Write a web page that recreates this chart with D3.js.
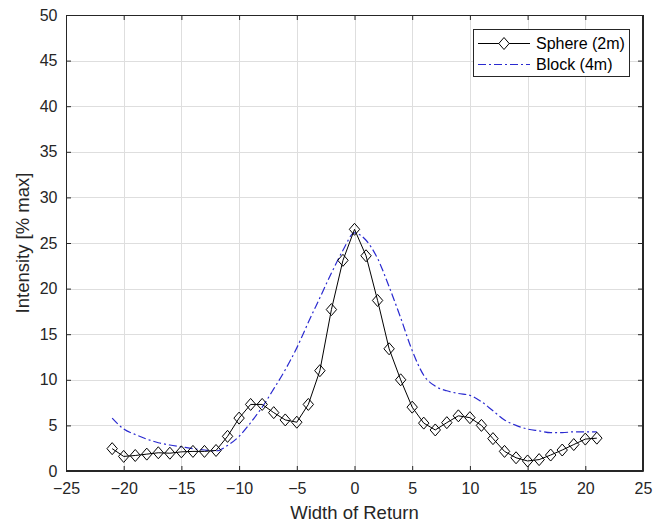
<!DOCTYPE html>
<html>
<head>
<meta charset="utf-8">
<script src="https://cdn.jsdelivr.net/npm/d3@7"></script>
<style>
  html, body { margin: 0; padding: 0; background: #fff; }
  svg text { font-family: "Liberation Sans", Arial, Helvetica, sans-serif; }
</style>
</head>
<body>
<svg id="chart" width="657" height="527"></svg>
<script>
// Return profile along the width axis
const widths = d3.range(-21, 22);
const sphere = [2.45, 1.6, 1.7, 1.85, 2.0, 1.95, 2.1, 2.15, 2.15, 2.25, 3.8, 5.8, 7.3, 7.3, 6.4,
  5.6, 5.35, 7.3, 11.0, 17.7, 23.1, 26.5, 23.6, 18.7, 13.4, 10.0, 7.0, 5.25, 4.5, 5.3, 6.05,
  5.85, 5.0, 3.55, 2.15, 1.45, 1.1, 1.25, 1.75, 2.3, 2.9, 3.5, 3.6];
const block = [5.8, 4.6, 4.0, 3.5, 3.1, 2.85, 2.65, 2.45, 2.3, 2.2, 2.8, 3.8, 5.3, 7.0, 9.0,
  11.1, 13.5, 16.3, 19.0, 21.7, 24.2, 26.1, 25.3, 23.3, 20.2, 16.8, 13.2, 10.5, 9.3, 8.8, 8.5,
  8.3, 7.6, 6.6, 5.6, 5.0, 4.6, 4.4, 4.2, 4.2, 4.3, 4.3, 4.3];
const xTicks = [-25, -20, -15, -10, -5, 0, 5, 10, 15, 20, 25];
const yTicks = [0, 5, 10, 15, 20, 25, 30, 35, 40, 45, 50];
const seriesNames = ["Sphere (2m)", "Block (4m)"];

const svg = d3.select("#chart");
const pLeft = 66, pRight = 643, pTop = 15, pBottom = 471;
const axisColor = "#262626";
const blue = "#2a2ad0";

const x = d3.scaleLinear().domain([-25, 25]).range([pLeft, pRight]);
const y = d3.scaleLinear().domain([0, 50]).range([pBottom, pTop]);

// grid
const grid = svg.append("g").attr("stroke", "#dedede").attr("stroke-width", 1);
grid.selectAll(".gx").data(xTicks.slice(1, -1)).join("line")
  .attr("x1", d => Math.round(x(d)) + 0.5).attr("x2", d => Math.round(x(d)) + 0.5)
  .attr("y1", pTop).attr("y2", pBottom);
grid.selectAll(".gy").data(yTicks.slice(1, -1)).join("line")
  .attr("y1", d => Math.round(y(d)) + 0.5).attr("y2", d => Math.round(y(d)) + 0.5)
  .attr("x1", pLeft).attr("x2", pRight);

// axes
const gx = svg.append("g").attr("transform", `translate(0,${pBottom})`)
  .call(d3.axisBottom(x).tickValues(xTicks).tickSize(-5).tickPadding(12).tickSizeOuter(0));
const gxTop = svg.append("g").attr("transform", `translate(0,${pTop})`)
  .call(d3.axisTop(x).tickValues(xTicks).tickSize(-5).tickFormat("").tickSizeOuter(0));
const gy = svg.append("g").attr("transform", `translate(${pLeft},0)`)
  .call(d3.axisLeft(y).tickValues(yTicks).tickSize(-5).tickPadding(8.5).tickSizeOuter(0));
const gyRight = svg.append("g").attr("transform", `translate(${pRight},0)`)
  .call(d3.axisRight(y).tickValues(yTicks).tickSize(-5).tickFormat("").tickSizeOuter(0));

[gx, gxTop, gy, gyRight].forEach(g => {
  g.selectAll("path").attr("stroke", axisColor).attr("stroke-width", 1);
  g.selectAll("line").attr("stroke", axisColor);
  g.selectAll("text").attr("fill", axisColor).style("font-size", "16px");
});

// axis titles
svg.append("text").attr("x", (pLeft + pRight) / 2).attr("y", 519)
  .attr("text-anchor", "middle").attr("fill", axisColor).style("font-size", "18.5px")
  .text("Width of Return");
svg.append("text").attr("transform", `translate(29,${(pTop + pBottom) / 2}) rotate(-90)`)
  .attr("text-anchor", "middle").attr("fill", axisColor).style("font-size", "18.5px")
  .text("Intensity [% max]");

// series
const plot = svg.append("g");
const smooth = d3.line().x(d => x(d[0])).y(d => y(d[1])).curve(d3.curveMonotoneX);
const straight = d3.line().x(d => x(d[0])).y(d => y(d[1]));

plot.append("path").datum(widths.map((w, i) => [w, block[i]]))
  .attr("d", smooth).attr("fill", "none").attr("stroke", blue).attr("stroke-width", 1.2)
  .attr("stroke-dasharray", "8,3,2,3");

plot.append("path").datum(widths.map((w, i) => [w, sphere[i]]))
  .attr("d", straight).attr("fill", "none").attr("stroke", "#000").attr("stroke-width", 1);

const diamond = (rx, ry) => `M0,${-ry}L${rx},0L0,${ry}L${-rx},0Z`;
plot.selectAll(".m").data(widths.map((w, i) => [w, sphere[i]])).join("path")
  .attr("transform", d => `translate(${x(d[0])},${y(d[1])})`)
  .attr("d", diamond(5.2, 6)).attr("fill", "none").attr("stroke", "#000").attr("stroke-width", 1);

// outer box drawn on top
svg.append("rect").attr("x", pLeft + 0.5).attr("y", pTop + 0.5)
  .attr("width", pRight - pLeft - 1).attr("height", pBottom - pTop - 1)
  .attr("fill", "none").attr("stroke", axisColor).attr("stroke-width", 1);

// legend
const lg = svg.append("g");
lg.append("rect").attr("x", 473.5).attr("y", 29.5).attr("width", 156).attr("height", 47)
  .attr("fill", "#fff").attr("stroke", axisColor).attr("stroke-width", 1);
lg.append("line").attr("x1", 478).attr("x2", 530).attr("y1", 43.5).attr("y2", 43.5)
  .attr("stroke", "#000").attr("stroke-width", 1);
lg.append("path").attr("transform", "translate(504,43.5)").attr("d", diamond(5.2, 6))
  .attr("fill", "#fff").attr("stroke", "#000");
lg.append("line").attr("x1", 478).attr("x2", 530).attr("y1", 64.5).attr("y2", 64.5)
  .attr("stroke", blue).attr("stroke-width", 1.2).attr("stroke-dasharray", "8,3,2,3");
lg.selectAll(".lt").data(seriesNames).join("text")
  .attr("x", 536).attr("y", (d, i) => 49 + i * 21)
  .attr("fill", "#000").style("font-size", "16px").text(d => d);
</script>
</body>
</html>
